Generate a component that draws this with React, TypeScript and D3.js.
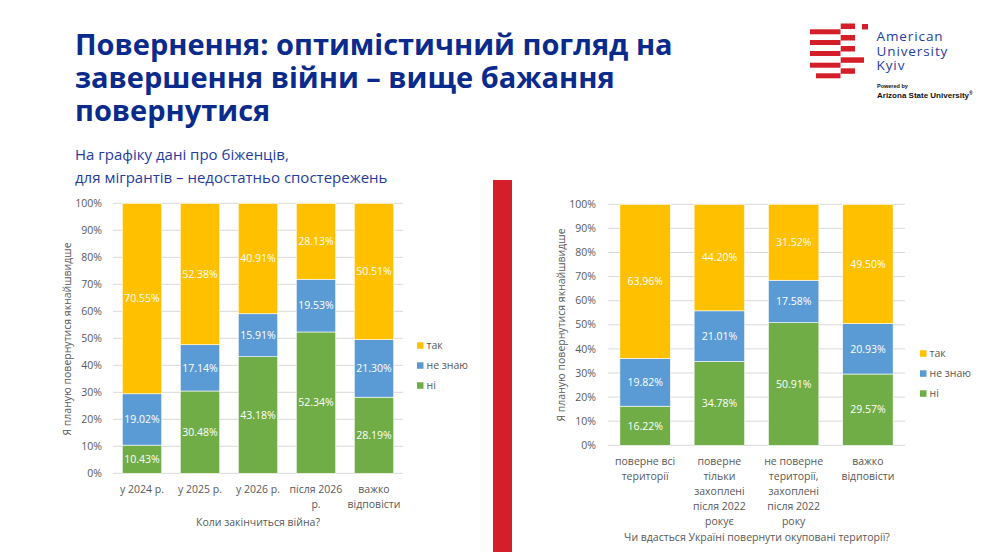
import { useMemo } from 'react';
import * as d3 from 'd3';

const W = 992;
const H = 552;

const SERIES = ['ні', 'не знаю', 'так'];
const COLORS = ['#70AD47', '#5B9BD5', '#FFC000'];
const Y_TICKS = [0, 10, 20, 30, 40, 50, 60, 70, 80, 90, 100];

// ліва діаграма
const leftCategories = [['у 2024 р.'], ['у 2025 р.'], ['у 2026 р.'], ['після 2026', 'р.'], ['важко', 'відповісти']];
const leftNo = [10.43, 30.48, 43.18, 52.34, 28.19];
const leftDontKnow = [19.02, 17.14, 15.91, 19.53, 21.3];
const leftYes = [70.55, 52.38, 40.91, 28.13, 50.51];

// права діаграма
const rightCategories = [
  ['поверне всі', 'території'],
  ['поверне', 'тільки', 'захоплені', 'після 2022', 'рокує'],
  ['не поверне', 'території,', 'захоплені', 'після 2022', 'року'],
  ['важко', 'відповісти'],
];
const rightNo = [16.22, 34.78, 50.91, 29.57];
const rightDontKnow = [19.82, 21.01, 17.58, 20.93];
const rightYes = [63.96, 44.2, 31.52, 49.5];

const FONT = "'Open Sans', sans-serif";
const GRAY = '#595959';

type ChartProps = {
  categories: string[][];
  values: number[][];
  x0: number;
  x1: number;
  y0: number;
  y1: number;
  tickRight: number;
  labelY: number;
  axisTitle: string;
  axisTitleX: number;
  axisTitleY: number;
  yTitleX: number;
  yTitleY: number;
  legendX: number;
  legendY: number;
};

function StackedChart({
  categories, values, x0, x1, y0, y1, tickRight, labelY,
  axisTitle, axisTitleX, axisTitleY, yTitleX, yTitleY, legendX, legendY,
}: ChartProps) {
  const x = d3.scaleBand<number>()
    .domain(categories.map((_, i) => i))
    .range([x0, x1])
    .paddingInner(0.32)
    .paddingOuter(0.16);
  const y = d3.scaleLinear().domain([0, 100]).range([y0, y1]);

  const stacked = useMemo(() => {
    const rows = categories.map((_, i) => {
      const r: Record<string, number> = {};
      SERIES.forEach((s, k) => { r[s] = values[k][i]; });
      return r;
    });
    return d3.stack<Record<string, number>>().keys(SERIES)(rows);
  }, [categories, values]);

  return (
    <g fontFamily={FONT}>
      {Y_TICKS.map((t) => (
        <g key={t}>
          <line x1={x0} x2={x1} y1={y(t)} y2={y(t)} stroke="#D9D9D9" strokeWidth={1} />
          <text x={tickRight} y={y(t)} dy="0.35em" textAnchor="end" fontSize={10.5} fill={GRAY}>
            {`${t}%`}
          </text>
        </g>
      ))}
      {stacked.map((layer, k) => (
        <g key={layer.key}>
          {layer.map((d, i) => (
            <g key={i}>
              <rect
                x={x(i)}
                width={x.bandwidth()}
                y={y(d[1])}
                height={y(d[0]) - y(d[1])}
                fill={COLORS[k]}
                stroke="#fff"
                strokeWidth={0.6}
              />
              <text
                x={(x(i) ?? 0) + x.bandwidth() / 2}
                y={(y(d[0]) + y(d[1])) / 2}
                dy="0.36em"
                textAnchor="middle"
                fontSize={10.5}
                fill="#fff"
              >
                {`${values[k][i].toFixed(2)}%`}
              </text>
            </g>
          ))}
        </g>
      ))}
      {categories.map((lines, i) => (
        <text
          key={i}
          x={(x(i) ?? 0) + x.bandwidth() / 2}
          y={labelY}
          textAnchor="middle"
          fontSize={10.5}
          fill={GRAY}
        >
          {lines.map((l, j) => (
            <tspan key={j} x={(x(i) ?? 0) + x.bandwidth() / 2} dy={j === 0 ? 0 : 15}>{l}</tspan>
          ))}
        </text>
      ))}
      <text x={axisTitleX} y={axisTitleY} textAnchor="middle" fontSize={10.5} fill={GRAY}>
        {axisTitle}
      </text>
      <text
        transform={`translate(${yTitleX},${yTitleY}) rotate(-90)`}
        textAnchor="middle"
        dy="0.35em"
        fontSize={10.5}
        fill={GRAY}
      >
        Я планую повернутися якнайшвидше
      </text>
      {[2, 1, 0].map((k, j) => (
        <g key={k} transform={`translate(${legendX},${legendY + j * 20})`}>
          <rect x={0} y={-3} width={6.5} height={6.5} fill={COLORS[k]} />
          <text x={9.5} y={0} dy="0.35em" fontSize={10.5} fill={GRAY}>{SERIES[k]}</text>
        </g>
      ))}
    </g>
  );
}

function Logo() {
  const red = '#D41F2A';
  const left = [[810, 29.3], [810, 40], [810, 51], [810, 62.7], [816, 73.3]];
  const right = [[840.7, 23.5, 855], [840.7, 35, 855], [840.7, 46, 855], [840.7, 57.3, 864], [840.7, 68.3, 855]];
  return (
    <g>
      {left.map(([lx, ly], i) => (
        <rect key={`l${i}`} x={lx} y={ly} width={840.5 - lx} height={5} fill={red} />
      ))}
      {right.map(([rx, ry, re], i) => (
        <rect key={`r${i}`} x={rx} y={ry} width={re - rx} height={5.5} fill={red} />
      ))}
      <rect x={862} y={24} width={6} height={5.5} fill={red} />
      <g fontFamily={FONT} fill="#1F3C9E" fontSize={13.5} letterSpacing={0.9}>
        <text x={876.5} y={41}>American</text>
        <text x={876.5} y={55.5}>University</text>
        <text x={876.5} y={70}>Kyiv</text>
      </g>
      <text x={877} y={88} fontFamily="'Liberation Sans', Arial, sans-serif" fontSize={5.5} fontWeight="bold" fill="#111">
        Powered by
      </text>
      <text x={877} y={97.5} fontFamily="'Liberation Sans', Arial, sans-serif" fontSize={8} fontWeight="bold" fill="#111">
        Arizona State University<tspan fontSize={5} dy={-3}>®</tspan>
      </text>
    </g>
  );
}

export default function App() {
  const leftValues = [leftNo, leftDontKnow, leftYes];
  const rightValues = [rightNo, rightDontKnow, rightYes];
  return (
    <svg
      width={W}
      height={H}
      style={{ position: 'absolute', left: 0, top: 0, background: '#fff' }}
    >
      <rect width={W} height={H} fill="#fff" />
      <g fontFamily={FONT} fontWeight="bold" fontSize={29} fill="#0A2A8C">
        <text x={75} y={55}>Повернення: оптимістичний погляд на</text>
        <text x={75} y={88}>завершення війни – вище бажання</text>
        <text x={75} y={120.5}>повернутися</text>
      </g>
      <g fontFamily={FONT} fontSize={15} fill="#1F3C9E">
        <text x={75} y={160}>На графіку дані про біженців,</text>
        <text x={75} y={183}>для мігрантів – недостатньо спостережень</text>
      </g>
      <Logo />
      <rect x={493} y={180} width={19} height={372} fill="#D41F2A" />
      <StackedChart
        categories={leftCategories}
        values={leftValues}
        x0={113}
        x1={403}
        y0={473.3}
        y1={203.3}
        tickRight={102}
        labelY={493}
        axisTitle="Коли закінчиться війна?"
        axisTitleX={258}
        axisTitleY={526}
        yTitleX={67}
        yTitleY={339}
        legendX={417}
        legendY={345.3}
      />
      <StackedChart
        categories={rightCategories}
        values={rightValues}
        x0={608}
        x1={905}
        y0={445.3}
        y1={204.3}
        tickRight={596}
        labelY={465}
        axisTitle="Чи вдасться Україні повернути окуповані території?"
        axisTitleX={757}
        axisTitleY={541}
        yTitleX={561}
        yTitleY={325}
        legendX={920}
        legendY={353.3}
      />
    </svg>
  );
}
